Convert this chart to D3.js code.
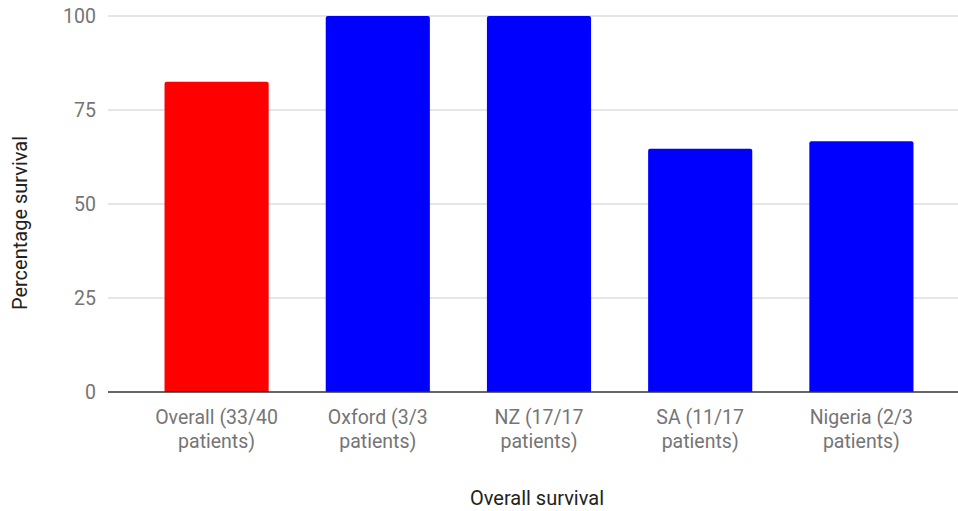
<!DOCTYPE html>
<html>
<head>
<meta charset="utf-8">
<script src="https://cdn.jsdelivr.net/npm/d3@7"></script>
<style>
  html, body { margin: 0; padding: 0; background: #fff; }
  svg { display: block; font-family: Roboto, "Noto Sans", sans-serif; }
</style>
</head>
<body>
<svg id="chart" width="958" height="511"></svg>
<script>
// Survival by cohort (survivors / patients)
const categories = [
  ["Overall (33/40", "patients)"],
  ["Oxford (3/3", "patients)"],
  ["NZ (17/17", "patients)"],
  ["SA (11/17", "patients)"],
  ["Nigeria (2/3", "patients)"]
];
const survivors = [33, 3, 17, 11, 2];
const patients = [40, 3, 17, 17, 3];
const values = survivors.map((s, i) => s / patients[i] * 100);
const barColors = ["#ff0000", "#0000ff", "#0000ff", "#0000ff", "#0000ff"];
const yTicks = [0, 25, 50, 75, 100];

const svg = d3.select("#chart");
const gridLeft = 108, gridRight = 958;

const x = d3.scaleBand()
  .domain(d3.range(categories.length))
  .range([136, 942])
  .paddingInner(0.354)
  .paddingOuter(0.177);

const y = d3.scaleLinear().domain([0, 100]).range([392, 16]);

// gridlines
svg.append("g").selectAll("line")
  .data(yTicks.filter(t => t !== 0))
  .join("line")
  .attr("x1", gridLeft).attr("x2", gridRight)
  .attr("y1", d => y(d)).attr("y2", d => y(d))
  .attr("stroke", "#cccccc").attr("stroke-width", 1);

// y tick labels
svg.append("g").selectAll("text")
  .data(yTicks)
  .join("text")
  .attr("x", 96)
  .attr("y", d => y(d))
  .attr("dy", "0.36em")
  .attr("text-anchor", "end")
  .attr("font-size", 19.5)
  .attr("fill", "#757575")
  .text(d => d);

// bars with softly rounded top corners
const r = 2;
svg.append("g").selectAll("path")
  .data(values)
  .join("path")
  .attr("fill", (d, i) => barColors[i])
  .attr("d", (d, i) => {
    const x0 = x(i), x1 = x(i) + x.bandwidth();
    const yt = y(d), yb = y(0);
    return `M${x0},${yb} L${x0},${yt + r} Q${x0},${yt} ${x0 + r},${yt} L${x1 - r},${yt} Q${x1},${yt} ${x1},${yt + r} L${x1},${yb} Z`;
  });

// baseline
svg.append("line")
  .attr("x1", gridLeft).attr("x2", gridRight)
  .attr("y1", y(0)).attr("y2", y(0))
  .attr("stroke", "#333333").attr("stroke-width", 1.5);

// category labels (two lines)
const labels = svg.append("g").selectAll("text")
  .data(categories)
  .join("text")
  .attr("text-anchor", "middle")
  .attr("font-size", 19.5)
  .attr("fill", "#757575");
labels.each(function(lines, i) {
  const t = d3.select(this);
  lines.forEach((line, j) => {
    t.append("tspan")
      .attr("x", x(i) + x.bandwidth() / 2)
      .attr("y", 424 + j * 24)
      .text(line);
  });
});

// axis titles
svg.append("text")
  .attr("x", 537).attr("y", 505)
  .attr("text-anchor", "middle")
  .attr("font-size", 20)
  .attr("fill", "#222222")
  .text("Overall survival");

svg.append("text")
  .attr("transform", "translate(27,223) rotate(-90)")
  .attr("text-anchor", "middle")
  .attr("font-size", 20)
  .attr("fill", "#222222")
  .text("Percentage survival");
</script>
</body>
</html>
